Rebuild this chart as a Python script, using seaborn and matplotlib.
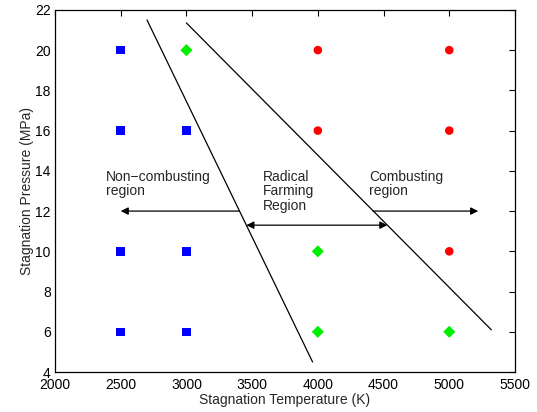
import pandas as pd
import matplotlib
matplotlib.use("Agg")
import matplotlib.pyplot as plt
import seaborn as sns

# --- data ---
temp = [2500, 2500, 3000, 2500, 3000, 2500, 3000,
        3000, 4000, 4000, 5000,
        4000, 5000, 4000, 5000, 5000]
pressure = [20, 16, 16, 10, 10, 6, 6,
            20, 10, 6, 6,
            20, 20, 16, 16, 10]
regime = ["non"] * 7 + ["radical"] * 4 + ["comb"] * 5

# boundary lines (T, P) end points
line1_t = [2700, 3960]
line1_p = [21.5, 4.5]
line2_t = [3000, 5320]
line2_p = [21.35, 6.1]

df = pd.DataFrame({"T": temp, "P": pressure, "regime": regime})

sns.set_style("white")
plt.rcParams["font.family"] = ["Liberation Sans", "DejaVu Sans"]

fig = plt.figure(figsize=(5.37, 4.12), dpi=100)
ax = fig.add_axes([0.1024, 0.097, 0.8566, 0.879])

sns.scatterplot(data=df, x="T", y="P", hue="regime", style="regime",
                palette={"non": "#0000ff", "radical": "#00ee00", "comb": "#ff0000"},
                markers={"non": "s", "radical": "D", "comb": "o"},
                s=38, linewidth=0, legend=False, ax=ax)
ax.plot(line1_t, line1_p, color="black", lw=0.9)
ax.plot(line2_t, line2_p, color="black", lw=0.9)

aprops = dict(arrowstyle="-|>", color="black", lw=0.9, mutation_scale=11, shrinkA=0, shrinkB=0)
ax.annotate("", xy=(2500, 12), xytext=(3404, 12), arrowprops=aprops)
ax.annotate("", xy=(5220, 12), xytext=(4420, 12), arrowprops=aprops)
ax.annotate("", xy=(3456, 11.3), xytext=(4529, 11.3),
            arrowprops=dict(aprops, arrowstyle="<|-|>"))

fs = 10
ax.text(2388, 14.05, "Non\u2212combusting\nregion", fontsize=fs, va="top", ha="left", linespacing=1.05)
ax.text(3580, 14.05, "Radical\nFarming\nRegion", fontsize=fs, va="top", ha="left", linespacing=1.05)
ax.text(4392, 14.05, "Combusting\nregion", fontsize=fs, va="top", ha="left", linespacing=1.05)

ax.set_xlim(2000, 5500)
ax.set_ylim(4, 22)
ax.set_xticks(range(2000, 5501, 500))
ax.set_yticks(range(4, 23, 2))
ax.tick_params(direction="in", length=4, width=0.8, labelsize=fs, top=True, right=True,
               colors="black")
ax.tick_params(axis="x", pad=4.5)
ax.tick_params(axis="y", pad=3)
for sp in ax.spines.values():
    sp.set_color("black")
    sp.set_linewidth(0.9)
ax.set_xlabel("Stagnation Temperature (K)", fontsize=fs, labelpad=0.5)
ax.set_ylabel("Stagnation Pressure (MPa)", fontsize=fs, labelpad=1)

fig.savefig("out.png", dpi=100)
